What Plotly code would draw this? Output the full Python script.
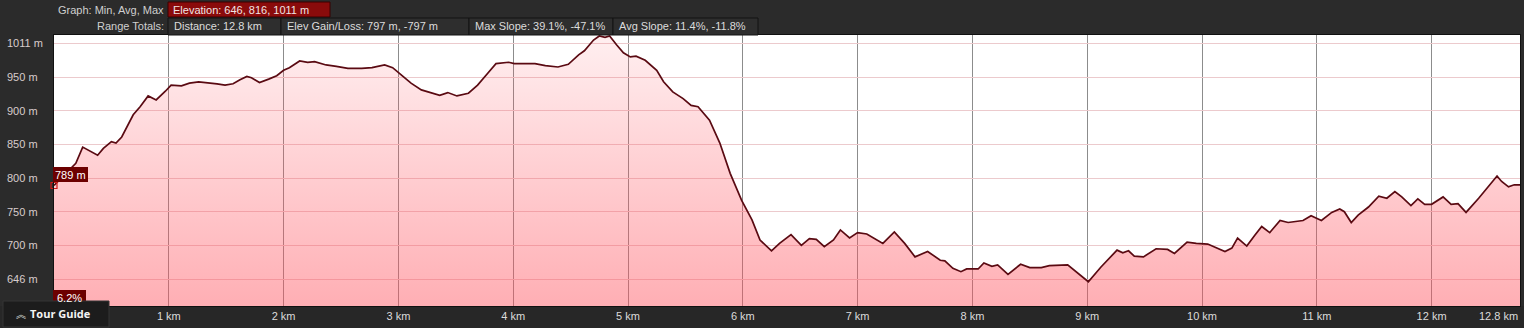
import plotly.graph_objects as go

# ---- data ----
dist_km = [0.00, 0.19, 0.25, 0.38, 0.43, 0.50, 0.54, 0.59, 0.69, 0.75, 0.82, 0.89, 0.97,
           1.02, 1.11, 1.18, 1.26, 1.34, 1.42, 1.49, 1.56, 1.62, 1.68, 1.72, 1.79, 1.87, 1.94,
           2.00, 2.05, 2.14, 2.21, 2.27, 2.37, 2.46, 2.56, 2.68, 2.77, 2.88, 2.95,
           3.04, 3.11, 3.20, 3.29, 3.36, 3.43, 3.51, 3.61, 3.69, 3.78, 3.85, 3.96,
           4.01, 4.19, 4.28, 4.39, 4.48, 4.57, 4.62, 4.70, 4.75, 4.80, 4.84, 4.90, 4.96,
           5.02, 5.07, 5.15, 5.25, 5.31, 5.39, 5.48, 5.55, 5.61, 5.71, 5.80, 5.89, 5.99,
           6.08, 6.15, 6.25, 6.32, 6.42, 6.51, 6.58, 6.64, 6.71, 6.79, 6.85, 6.93,
           7.00, 7.08, 7.22, 7.32, 7.41, 7.50, 7.61, 7.72, 7.76, 7.83, 7.90, 7.95,
           8.05, 8.10, 8.17, 8.22, 8.31, 8.42, 8.50, 8.60, 8.67, 8.83, 8.89,
           9.01, 9.12, 9.26, 9.31, 9.36, 9.41, 9.49, 9.60, 9.70, 9.76, 9.87, 9.95,
           10.05, 10.20, 10.26, 10.31, 10.39, 10.46, 10.52, 10.59, 10.68, 10.75, 10.88, 10.95,
           11.04, 11.13, 11.20, 11.24, 11.30, 11.36, 11.45, 11.54, 11.61, 11.68, 11.74, 11.82,
           11.88, 11.94, 12.00, 12.10, 12.17, 12.23, 12.30, 12.41, 12.49, 12.57, 12.61, 12.67,
           12.72, 12.77]
elev_m = [789, 822, 846, 834, 844, 854, 852, 861, 894, 906, 922, 916, 929,
          938, 937, 941, 943, 942, 940, 938, 940, 946, 951, 949, 942, 947, 952,
          960, 964, 974, 972, 973, 968, 966, 963, 963, 964, 968, 964,
          951, 941, 931, 926, 923, 927, 922, 926, 938, 956, 970, 972,
          970, 970, 967, 965, 969, 983, 989, 1005, 1011, 1009, 1011, 998, 986,
          980, 981, 975, 960, 943, 928, 918, 908, 906, 886, 852, 807, 767,
          738, 708, 692, 703, 716, 700, 710, 709, 698, 708, 723, 711,
          719, 717, 703, 720, 703, 683, 691, 678, 677, 666, 661, 665,
          665, 674, 669, 671, 657, 672, 667, 667, 670, 671, 663,
          646, 668, 693, 689, 692, 684, 683, 695, 694, 688, 705, 703,
          702, 691, 696, 711, 699, 715, 728, 719, 737, 734, 737, 744,
          737, 749, 754, 750, 734, 745, 757, 773, 770, 780, 772, 759,
          769, 761, 761, 772, 761, 762, 749, 770, 786, 803, 795, 787,
          790, 790]

x_tick_vals = [1, 2, 3, 4, 5, 6, 7, 8, 9, 10, 11, 12]
x_tick_text = ["1 km", "2 km", "3 km", "4 km", "5 km", "6 km", "7 km", "8 km",
               "9 km", "10 km", "11 km", "12 km"]
x_end_label = "12.8 km"
y_grid_vals = [650, 700, 750, 800, 850, 900, 950, 1000]
y_tick_text = ["646 m", "700 m", "750 m", "800 m", "850 m", "900 m", "950 m", "1011 m"]

header_row1 = ["Graph: Min, Avg, Max", "Elevation: 646, 816, 1011 m"]
header_row2 = ["Range Totals:", "Distance: 12.8 km", "Elev Gain/Loss: 797 m, -797 m",
               "Max Slope: 39.1%, -47.1%", "Avg Slope: 11.4%, -11.8%"]
marker_label = "789 m"
slope_label = "6.2%"
tour_label = "Tour Guide"
tour_icon = "︽"

# ---- layout geometry (pixels) ----
W, H = 1524, 328
ML, MR, MT, MB = 54, 4, 35, 22
PW, PH = W - ML - MR, H - MT - MB


def px(x):
    return (x - ML) / PW


def py(y):
    return (H - MB - y) / PH


FONT = "Liberation Sans, Arial, sans-serif"
fig = go.Figure()

fig.add_trace(go.Scatter(
    x=dist_km, y=elev_m, mode="lines",
    line=dict(color="#5a0a12", width=1.7),
    fill="tozeroy",
    fillgradient=dict(type="vertical",
                      colorscale=[[0, "rgba(255,80,92,0.46)"], [1, "rgba(255,80,92,0.09)"]],
                      start=610, stop=1012.5),
    hoverinfo="skip", showlegend=False))

fig.add_trace(go.Scatter(
    x=dist_km[:1], y=elev_m[:1], mode="markers",
    marker=dict(symbol="square-open", size=6, color="#d01818", line=dict(width=1.2)),
    cliponaxis=False, hoverinfo="skip", showlegend=False))

shapes = []
annotations = []

# bottom strip
shapes.append(dict(type="rect", xref="paper", yref="paper", x0=px(0), x1=px(W),
                   y0=py(H), y1=py(H - MB), fillcolor="#272727", line=dict(width=0), layer="below"))

# header row 1
shapes.append(dict(type="rect", xref="paper", yref="paper", x0=px(168), x1=px(330),
                   y0=py(17), y1=py(2), fillcolor="#8a0b0b", line=dict(color="#3a0000", width=1)))
annotations.append(dict(text=header_row1[0], xref="paper", yref="paper", x=px(166), y=py(9.5),
                        xanchor="right", yanchor="middle", showarrow=False,
                        font=dict(family=FONT, size=11, color="#cfcfcf")))
annotations.append(dict(text=header_row1[1], xref="paper", yref="paper", x=px(171), y=py(9.5),
                        xanchor="left", yanchor="middle", showarrow=False,
                        font=dict(family=FONT, size=11, color="#f0e4e4")))

# header row 2
box_edges = [168, 281, 469, 613, 758]
for i in range(4):
    shapes.append(dict(type="rect", xref="paper", yref="paper", x0=px(box_edges[i]),
                       x1=px(box_edges[i + 1]), y0=py(35), y1=py(18),
                       fillcolor="#2e2e2e", line=dict(color="#121212", width=1)))
annotations.append(dict(text=header_row2[0], xref="paper", yref="paper", x=px(166), y=py(26),
                        xanchor="right", yanchor="middle", showarrow=False,
                        font=dict(family=FONT, size=11, color="#cfcfcf")))
for i in range(4):
    annotations.append(dict(text=header_row2[i + 1], xref="paper", yref="paper",
                            x=px(box_edges[i] + 3.5), y=py(26), xanchor="left", yanchor="middle",
                            showarrow=False, font=dict(family=FONT, size=11, color="#dcdcdc")))

# y labels (left aligned)
for v, t in zip(y_grid_vals, y_tick_text):
    annotations.append(dict(text=t, xref="paper", yref="y", x=px(5), y=v, xanchor="left",
                            yanchor="middle", showarrow=False,
                            font=dict(family=FONT, size=11, color="#d8cccc")))

# x end label
annotations.append(dict(text=x_end_label, xref="paper", yref="paper", x=px(1520), y=py(316),
                        xanchor="right", yanchor="middle", showarrow=False,
                        font=dict(family=FONT, size=11, color="#dcdcdc")))

# 789 m label
shapes.append(dict(type="rect", xref="paper", yref="paper", x0=px(53), x1=px(88),
                   y0=py(182), y1=py(167), fillcolor="#6c0000", line=dict(width=0), layer="above"))
annotations.append(dict(text=marker_label, xref="paper", yref="paper", x=px(70.5), y=py(174.5),
                        xanchor="center", yanchor="middle", showarrow=False,
                        font=dict(family=FONT, size=11, color="#ffffff")))

# 6.2% label
shapes.append(dict(type="rect", xref="paper", yref="paper", x0=px(53), x1=px(86),
                   y0=py(305), y1=py(290), fillcolor="#6c0000", line=dict(width=0), layer="above"))
annotations.append(dict(text=slope_label, xref="paper", yref="paper", x=px(69.5), y=py(297.5),
                        xanchor="center", yanchor="middle", showarrow=False,
                        font=dict(family=FONT, size=11, color="#ffffff")))

# Tour guide box
shapes.append(dict(type="rect", xref="paper", yref="paper", x0=px(3), x1=px(109),
                   y0=py(327), y1=py(301), fillcolor="#1c1c1c",
                   line=dict(color="#353535", width=1), layer="above"))
annotations.append(dict(text=tour_icon, xref="paper", yref="paper",
                        x=px(14), y=py(313), xanchor="left", yanchor="middle", showarrow=False,
                        font=dict(family="Noto Sans CJK SC, sans-serif", size=10, color="#e0e0e0")))
annotations.append(dict(text="<b>" + tour_label + "</b>", xref="paper", yref="paper",
                        x=px(28), y=py(313), xanchor="left", yanchor="middle", showarrow=False,
                        font=dict(family="Open Sans, sans-serif", size=11, color="#f4f4f4")))

fig.update_layout(
    width=W, height=H,
    margin=dict(l=ML, r=MR, t=MT, b=MB, pad=0),
    paper_bgcolor="#2b2b2b", plot_bgcolor="#ffffff",
    shapes=shapes, annotations=annotations,
    showlegend=False,
    xaxis=dict(range=[0, 12.77], tickvals=x_tick_vals, ticktext=x_tick_text,
               showgrid=True, gridcolor="#8c8c8c", gridwidth=1, zeroline=False,
               ticks="", ticklabelstandoff=0,
               tickfont=dict(family=FONT, size=11, color="#dcdcdc"),
               showline=True, linecolor="#111111", linewidth=1, mirror=True, fixedrange=True),
    yaxis=dict(range=[610, 1012.5], tickvals=y_grid_vals, showticklabels=False,
               showgrid=True, gridcolor="#eccacd", gridwidth=1, zeroline=False, ticks="",
               showline=True, linecolor="#111111", linewidth=1, mirror=True, fixedrange=True),
)

fig.write_html("out.html", config={"displayModeBar": False})
